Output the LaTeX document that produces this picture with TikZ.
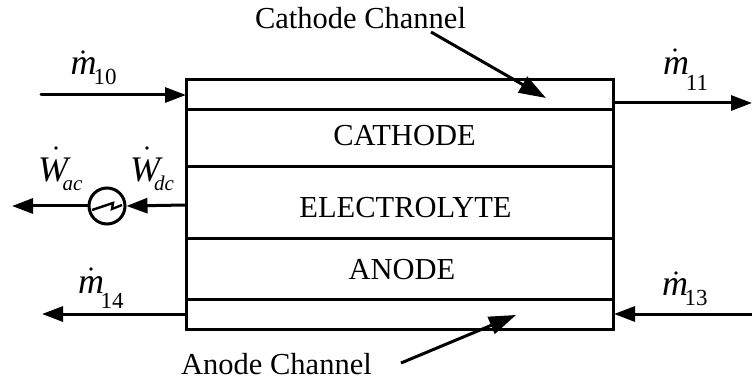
\documentclass[tikz,border=0pt]{standalone}
\usepackage{fontspec}
\setmainfont{Liberation Serif}
\usetikzlibrary{arrows.meta}
\tikzset{
  x=1pt,y=-1pt,
  wire/.style={line width=3pt},
  flow/.style={wire,-{Triangle[length=21pt,width=15pt]}},
  pointer/.style={wire,-{Triangle[length=27pt,width=18pt]}},
  lab/.style={font=\fontsize{30.5}{30.5}\selectfont,inner sep=0pt,outer sep=0pt,anchor=base},
  sym/.style={font=\fontsize{36}{36}\selectfont\itshape,inner sep=0pt,outer sep=0pt,anchor=base},
  subn/.style={font=\fontsize{23}{23}\selectfont,inner sep=0pt,outer sep=0pt,anchor=base},
  subi/.style={font=\fontsize{21}{21}\selectfont\itshape,inner sep=0pt,outer sep=0pt,anchor=base},
  dotmark/.style={circle,fill=black,inner sep=0pt,minimum size=3.6pt},
}
\begin{document}
\begin{tikzpicture}
\useasboundingbox (0,0) rectangle (752,382);
% stack
\coordinate (tl) at (186,80); \coordinate (br) at (613,329);
\draw[wire] (tl) rectangle (br);
\foreach \n/\y in {a/110,b/167,c/238,d/299}{
  \coordinate (\n l) at (186,\y); \coordinate (\n r) at (613,\y);
  \draw[wire] (\n l) -- (\n r);
}
\node[lab] at (404.5,146) (cathodeT) {CATHODE};
\node[lab] at (405.5,218) (electro) {ELECTROLYTE};
\node[lab] at (402,279) (anode) {ANODE};
\node[lab] at (360.5,29) (cc) {Cathode Channel};
\node[lab] at (276.5,374) (ac) {Anode Channel};
% pointer arrows
\coordinate (ccs) at (431,32); \coordinate (cce) at (546,98);
\draw[pointer] (ccs) -- (cce);
\coordinate (acs) at (401,363); \coordinate (ace) at (516,315);
\draw[pointer] (acs) -- (ace);
% flows
\coordinate (m10s) at (41,95); \coordinate (m10e) at (186,95);
\draw[flow,line cap=round] (m10s) -- (m10e);
\coordinate (m11s) at (613,103); \coordinate (m11e) at (752,103);
\draw[flow] (m11s) -- (m11e);
\coordinate (m14s) at (186,314); \coordinate (m14e) at (42,314);
\draw[flow] (m14s) -- (m14e);
\coordinate (m13s) at (752,314); \coordinate (m13e) at (614,314);
\draw[flow] (m13s) -- (m13e);
% inverter
\node[circle,draw,line width=3pt,minimum size=36pt,inner sep=0pt] (inv) at (107,206) {};
\coordinate (dcs) at (186,205);
\draw[flow] (dcs) -- (inv.east);
\coordinate (acw) at (12,206);
\draw[flow] (inv.west) -- (acw);
\draw[line width=2.4pt] (92,210) -- (113,203) -- (112,209) -- (122,205);
% labels
\node[sym] (m1) at (83.5,75) {m};
\node[dotmark] at (83,52) {};
\node[subn] at (105,85) {10};
\node[sym] (m2) at (676,75) {m};
\node[dotmark] at (675,50) {};
\node[subn] at (697,91) {11};
\node[sym] (m3) at (91,293) {m};
\node[dotmark] at (91,269) {};
\node[subn] at (112,308) {14};
\node[sym] (m4) at (675,295) {m};
\node[dotmark] at (676,273) {};
\node[subn] at (696,305) {13};
\node[sym] (w1) at (53,182) {W};
\node[dotmark] at (56,148) {};
\node[subi] at (72.5,191) {ac};
\node[sym] (w2) at (145,182) {W};
\node[dotmark] at (147,148) {};
\node[subi] at (164,191) {dc};
\end{tikzpicture}
\end{document}
